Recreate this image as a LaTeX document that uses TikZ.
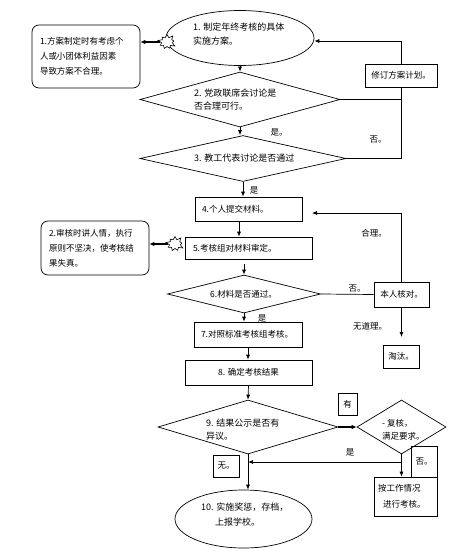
\documentclass[tikz,border=0pt]{standalone}
\usepackage{fontspec}
\setmainfont{Noto Sans CJK SC}
\usetikzlibrary{shapes.geometric,shapes.symbols,arrows.meta}
\tikzset{
  ln/.style={line width=0.7pt},
  arr/.style={ln,-{Latex[length=5pt,width=4pt]}},
  arrB/.style={line width=1.4pt,-{Latex[length=5pt,width=4.5pt]}},
  txt/.style={font=\fontsize{8.5}{15}\selectfont, inner sep=0pt, align=left},
  dtxt/.style={font=\fontsize{9}{13}\selectfont, inner sep=0pt, align=left, anchor=west},
  sbox/.style={draw, ln, fill=white, inner sep=0pt, font=\fontsize{8.5}{15}\selectfont, align=left},
  note/.style={draw, ln, rounded corners=7pt, inner sep=0pt, font=\fontsize{8.5}{15}\selectfont, align=left},
  dia/.style={diamond, draw, ln, inner sep=0pt},
  ell/.style={ellipse, draw, ln, inner sep=0pt},
  burst/.style={starburst, draw, line width=0.6pt, fill=white, inner sep=0pt,
     starburst points=9, starburst point height=4pt, minimum width=19pt, minimum height=17pt},
  lab/.style={font=\fontsize{8.5}{10}\selectfont, inner sep=1pt}
}
\begin{document}
\begin{tikzpicture}[x=1pt,y=-1pt]
\useasboundingbox (0,0) rectangle (475,555);

% ---- top part
\node[ell, minimum width=148pt, minimum height=55pt] (e1) at (240,38) {};
\node[dtxt, font=\fontsize{9}{14}\selectfont] (t1) at (193,34) {1. 制定年终考核的具体\\实施方案。};
\node[burst] (sb1) at (167,42) {};
\node[note, minimum width=108pt, minimum height=63pt, text width=92pt] (n1) at (86,56.5)
  {1.方案制定时有考虑个\\人或小团体利益因素\\导致方案不合理。};
\draw[arrB] (sb1.west) -- (sb1.west -| n1.east);

\node[dia, minimum width=200pt, minimum height=55pt] (d2) at (240,99.5) {};
\node[dtxt] (t2) at (194,100) {2. 党政联席会讨论是\\否合理可行。};
\node[dia, minimum width=206pt, minimum height=46pt] (d3) at (243,158.5) {};
\node[dtxt] (t3) at (194,158) {3. 教工代表讨论是否通过};

\draw[arr] (e1.south) -- (d2.north);
\draw[arr] (d2.south) -- (d2.south |- d3.north);

\coordinate (r1) at (401,41);
\draw[arr] (d3.east) -| (r1) -- (r1 -| e1.east);
\draw[ln] (d2.east) -- (d2.east -| r1);
\node[sbox, minimum width=72pt, minimum height=23pt] (rev) at (401,75.5) {修订方案计划。};
\node[lab, fill=white, inner ysep=3pt] (lshi1) at (279,132) {是。};
\node[lab] (lfou1) at (378,140) {否。};

% ---- middle
\node[sbox, minimum width=107pt, minimum height=24pt, text width=93pt] (b4) at (248.5,209) {4.个人提交材料。};
\draw[arr] (d3.south) -- (d3.south |- b4.north);
\node[lab] (lshi2) at (254,190) {是};

\node[sbox, minimum width=127pt, minimum height=22pt, text width=111pt] (b5) at (248.5,248) {5.考核组对材料审定。};
\draw[arr] ([xshift=-9.5pt]b4.south) -- ([xshift=-9.5pt]b4.south |- b5.north);
\node[burst] (sb2) at (175,244) {};
\node[note, minimum width=108pt, minimum height=54pt, text width=92pt] (n2) at (95,248)
  {2.审核时讲人情，执行\\原则不坚决，使考核结\\果失真。};
\draw[arrB] (sb2.west) -- (sb2.west -| n2.east);

\node[dia, minimum width=153pt, minimum height=38pt] (d6) at (244,294) {};
\node[dtxt, font=\fontsize{8.5}{13}\selectfont] (t6) at (210,294) {6.材料是否通过。};
\coordinate (c6) at (244,264);
\draw[arr] (c6) -- (d6.north);

\node[sbox, minimum width=108pt, minimum height=25pt, text width=94pt] (b7) at (248,334.5) {7.对照标准考核组考核。};
\draw[arr] (d6.south) -- (d6.south |- b7.north);
\node[lab] (lshi3) at (262,318) {是};

\node[sbox, minimum width=127pt, minimum height=25pt, align=center] (b8) at (248.5,372.5) {8. 确定考核结果};
\draw[arr] (b7.south) -- (b7.south |- b8.north);

% ---- right branch of 6
\node[sbox, minimum width=55pt, minimum height=25pt, align=center] (bP) at (401.5,294.5) {本人核对。};
\draw[ln] (d6.east) -- (bP.west);
\node[lab] (lfou2) at (357,289) {否。};
\coordinate (c4) at (312,213);
\draw[arr] (bP.north) |- (c4);
\node[lab] (lheli) at (374,233) {合理。};
\coordinate (c7) at (401.5,337);
\draw[arr] (bP.south) -- (c7);
\node[lab] (lwudl) at (370,326) {无道理。};
\node[sbox, minimum width=36pt, minimum height=23pt, align=center] (btt) at (401,356.5) {淘汰。};

% ---- bottom
\node[dia, minimum width=180pt, minimum height=54pt] (d9) at (248,427) {};
\node[dtxt] (t9) at (206,429.5) {9. 结果公示是否有\\异议。};
\draw[arr] (b8.south) -- (d9.north);

\node[dia, minimum width=89pt, minimum height=54pt] (dR) at (401.5,427) {};
\node[dtxt, font=\fontsize{8.5}{13}\selectfont] (tR) at (382,429.5) {- 复核，\\满足要求。};
\draw[arrB] (d9.east) -- (dR.west);
\node[draw, ln, minimum width=19pt, minimum height=22pt, inner sep=0pt, font=\fontsize{8.5}{10}\selectfont] (byou) at (347.5,404) {有};

\node[sbox, minimum width=63pt, minimum height=39pt, text width=55pt, font=\fontsize{8.5}{16}\selectfont] (bR) at (405.5,496.5) {按工作情况\\\hspace*{5pt}进行考核。};
\draw[arr] (dR.south) -- (dR.south |- bR.north);
\node[draw, ln, minimum width=26pt, minimum height=31pt, inner sep=0pt, font=\fontsize{8.5}{10}\selectfont] (bfou) at (424,461.5) {否。};
\coordinate (c9) at (401.5,462);
\draw[arr] (c9) -- (c9 -| d9.south);
\node[lab] (lshi4) at (350,452) {是};

\node[ell, minimum width=137pt, minimum height=58pt] (e10) at (243.5,519) {};
\node[dtxt, font=\fontsize{9}{15}\selectfont] (t10) at (201,514.5) {10. 实施奖惩，存档，\\\hspace*{14pt}上报学校。};
\draw[arr] (d9.south) -- (d9.south |- e10.north);
\node[draw, ln, minimum width=26pt, minimum height=22pt, inner sep=0pt, font=\fontsize{8.5}{10}\selectfont] (bwu) at (226,466) {无。};
\end{tikzpicture}
\end{document}
